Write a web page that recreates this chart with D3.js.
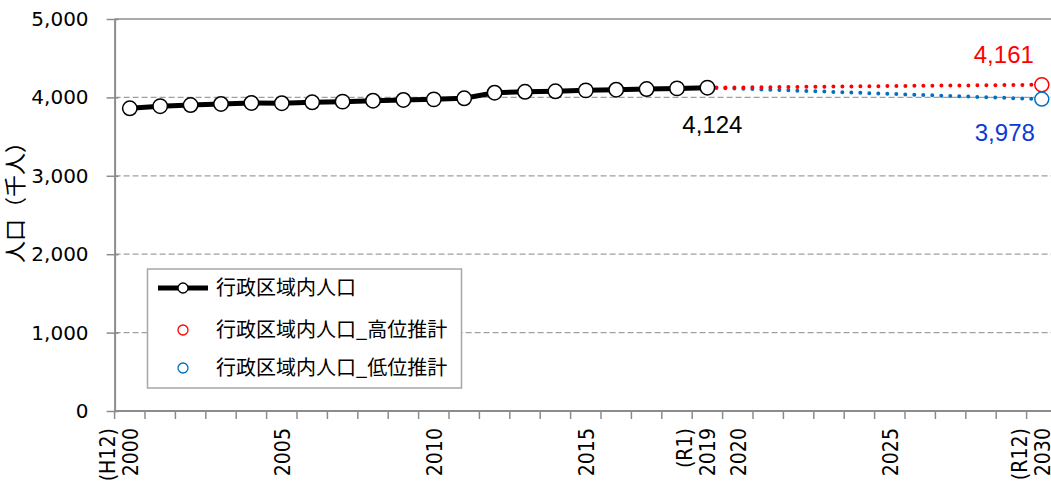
<!DOCTYPE html>
<html>
<head>
<meta charset="utf-8">
<script src="https://cdn.jsdelivr.net/npm/d3@7"></script>
<style>
  body { margin: 0; background: #fff; overflow: hidden; }
  svg { display: block; }
</style>
</head>
<body>
<script>
// data (thousand persons)
var years = d3.range(2000, 2031);
var actualYears = d3.range(2000, 2020);
var actualValues = [3861, 3888, 3903, 3916, 3929, 3926, 3938, 3946, 3958, 3967,
                    3975, 3989, 4060, 4072, 4078, 4090, 4098, 4107, 4115, 4124];
var projYears = [2019, 2020, 2025, 2030];
var highValues = [4124, 4127, 4145, 4161];
var lowValues = [4124, 4112, 4045, 3978];
var yTicks = [0, 1000, 2000, 3000, 4000, 5000];
// x labels: [year, lines]
var xLabels = [
    [2000, ["(H12)", "2000"]],
    [2005, ["2005"]],
    [2010, ["2010"]],
    [2015, ["2015"]],
    [2019, ["(R1)", "2019"]],
    [2020, ["2020"]],
    [2025, ["2025"]],
    [2030, ["(R12)", "2030"]]
];
var legendNames = ["行政区域内人口", "行政区域内人口_高位推計", "行政区域内人口_低位推計"];

var W = 1051, H = 482;
var plotLeft = 114.6, plotTop = 19, plotBottom = 411;
var step = 30.4;

var svg = d3.select("body").append("svg")
    .attr("width", W)
    .attr("height", H);

var x = d3.scaleBand()
    .domain(years)
    .range([plotLeft, plotLeft + step * years.length])
    .padding(0);

var y = d3.scaleLinear()
    .domain([0, 5000])
    .range([plotBottom, plotTop]);

function cx(yr) { return x(yr) + x.bandwidth() / 2; }

var gray = "#8c8c8c";

// gridlines
svg.append("g")
    .selectAll("line")
    .data(yTicks.filter(function (d) { return d > 0 && d < 5000; }))
    .enter().append("line")
    .attr("x1", plotLeft)
    .attr("x2", W)
    .attr("y1", function (d) { return y(d); })
    .attr("y2", function (d) { return y(d); })
    .attr("stroke", "#a0a0a0")
    .attr("stroke-width", 1.2)
    .attr("stroke-dasharray", "6,3");

// top border
svg.append("line")
    .attr("x1", plotLeft).attr("x2", W)
    .attr("y1", y(5000)).attr("y2", y(5000))
    .attr("stroke", gray).attr("stroke-width", 1.5);

// y axis
var yAxis = d3.axisLeft(y)
    .tickValues(yTicks)
    .tickFormat(d3.format(","))
    .tickSizeInner(8)
    .tickSizeOuter(0)
    .tickPadding(18);

var gY = svg.append("g")
    .attr("transform", "translate(" + plotLeft + ",0)")
    .call(yAxis);
gY.select(".domain").attr("stroke", gray).attr("stroke-width", 2);
gY.selectAll(".tick line").attr("stroke", gray).attr("stroke-width", 1.5).attr("x2", 4).attr("x1", -8);
gY.selectAll(".tick text")
    .attr("fill", "#000")
    .style("font-family", "'DejaVu Sans', sans-serif")
    .style("font-size", "20px");

// x axis line and boundary ticks
var gX = svg.append("g");
gX.append("line")
    .attr("x1", plotLeft).attr("x2", W)
    .attr("y1", plotBottom).attr("y2", plotBottom)
    .attr("stroke", gray).attr("stroke-width", 2);
gX.selectAll(".xt")
    .data(years)
    .enter().append("line")
    .attr("class", "xt")
    .attr("x1", function (d) { return x(d); })
    .attr("x2", function (d) { return x(d); })
    .attr("y1", plotBottom)
    .attr("y2", plotBottom + 8)
    .attr("stroke", gray)
    .attr("stroke-width", 1.5);

// x labels (rotated)
var lab = gX.selectAll(".xl")
    .data(xLabels)
    .enter().append("text")
    .attr("class", "xl")
    .attr("transform", function (d) { return "translate(" + cx(d[0]) + "," + 428 + ") rotate(-90) scale(1,1.15)"; })
    .attr("text-anchor", "end")
    .style("font-family", "'DejaVu Sans', sans-serif")
    .style("font-size", "19px")
    .attr("fill", "#000");
lab.each(function (d) {
    var t = d3.select(this);
    var n = d[1].length;
    d[1].forEach(function (s, i) {
        t.append("tspan")
            .attr("x", 0)
            .attr("y", (i - (n - 1)) * 20)
            .attr("dy", "0.36em")
            .text(s);
    });
});

// y axis title
svg.append("text")
    .attr("transform", "translate(15,197) rotate(-90)")
    .attr("text-anchor", "middle")
    .attr("dy", "0.35em")
    .style("font-family", "'Noto Sans CJK JP', sans-serif")
    .style("font-size", "22px")
    .text("人口（千人）");

// projection dotted lines
var projLine = d3.line()
    .x(function (d) { return cx(d[0]); })
    .y(function (d) { return y(d[1]); });

svg.append("path")
    .datum(d3.zip(projYears, lowValues))
    .attr("d", projLine)
    .attr("fill", "none")
    .attr("stroke", "#0070c0")
    .attr("stroke-width", 4)
    .attr("stroke-linecap", "round")
    .attr("stroke-dasharray", "0,9");

svg.append("path")
    .datum(d3.zip(projYears, highValues))
    .attr("d", projLine)
    .attr("fill", "none")
    .attr("stroke", "#ff0000")
    .attr("stroke-width", 4)
    .attr("stroke-linecap", "round")
    .attr("stroke-dasharray", "0,9");

// projection end markers
svg.append("circle")
    .attr("cx", cx(2030)).attr("cy", y(highValues[highValues.length - 1]))
    .attr("r", 7).attr("fill", "#fff").attr("stroke", "#ff0000").attr("stroke-width", 1.5);
svg.append("circle")
    .attr("cx", cx(2030)).attr("cy", y(lowValues[lowValues.length - 1]))
    .attr("r", 7).attr("fill", "#fff").attr("stroke", "#0070c0").attr("stroke-width", 1.5);

// actual line
var actual = d3.zip(actualYears, actualValues);
svg.append("path")
    .datum(actual)
    .attr("d", projLine)
    .attr("fill", "none")
    .attr("stroke", "#000")
    .attr("stroke-width", 5);

svg.selectAll(".dot")
    .data(actual)
    .enter().append("circle")
    .attr("class", "dot")
    .attr("cx", function (d) { return cx(d[0]); })
    .attr("cy", function (d) { return y(d[1]); })
    .attr("r", 7.2)
    .attr("fill", "#fff")
    .attr("stroke", "#000")
    .attr("stroke-width", 1.5);

// value labels
var fmt = d3.format(",");
function valueLabel(xx, yy, txt, col) {
    svg.append("text")
        .attr("x", xx).attr("y", yy)
        .attr("text-anchor", "middle")
        .attr("fill", col)
        .style("font-family", "'Liberation Sans', Arial, sans-serif")
        .style("font-size", "24px")
        .text(txt);
}
valueLabel(cx(2019) + 5, 133, fmt(actualValues[actualValues.length - 1]), "#000");
valueLabel(cx(2030) - 38, 63, fmt(highValues[highValues.length - 1]), "#ff0000");
valueLabel(cx(2030) - 37, 141, fmt(lowValues[lowValues.length - 1]), "#0b3bd6");

// legend
var lg = svg.append("g");
lg.append("rect")
    .attr("x", 147.5).attr("y", 269)
    .attr("width", 314).attr("height", 119)
    .attr("fill", "#fff")
    .attr("stroke", "#a6a6a6")
    .attr("stroke-width", 1.5);

var rowY = [288, 330, 368];
lg.append("line")
    .attr("x1", 158).attr("x2", 208)
    .attr("y1", rowY[0]).attr("y2", rowY[0])
    .attr("stroke", "#000").attr("stroke-width", 5);
var legCols = ["#000", "#ff0000", "#0070c0"];
lg.selectAll(".lm")
    .data(rowY)
    .enter().append("circle")
    .attr("class", "lm")
    .attr("cx", 183)
    .attr("cy", function (d) { return d; })
    .attr("r", 5)
    .attr("fill", "#fff")
    .attr("stroke", function (d, i) { return legCols[i]; })
    .attr("stroke-width", 1.3);
lg.selectAll(".lt")
    .data(legendNames)
    .enter().append("text")
    .attr("class", "lt")
    .attr("x", 216)
    .attr("y", function (d, i) { return rowY[i]; })
    .attr("dy", "0.35em")
    .style("font-family", "'Noto Sans CJK JP', sans-serif")
    .style("font-size", "20px")
    .text(function (d) { return d; });
</script>
</body>
</html>
